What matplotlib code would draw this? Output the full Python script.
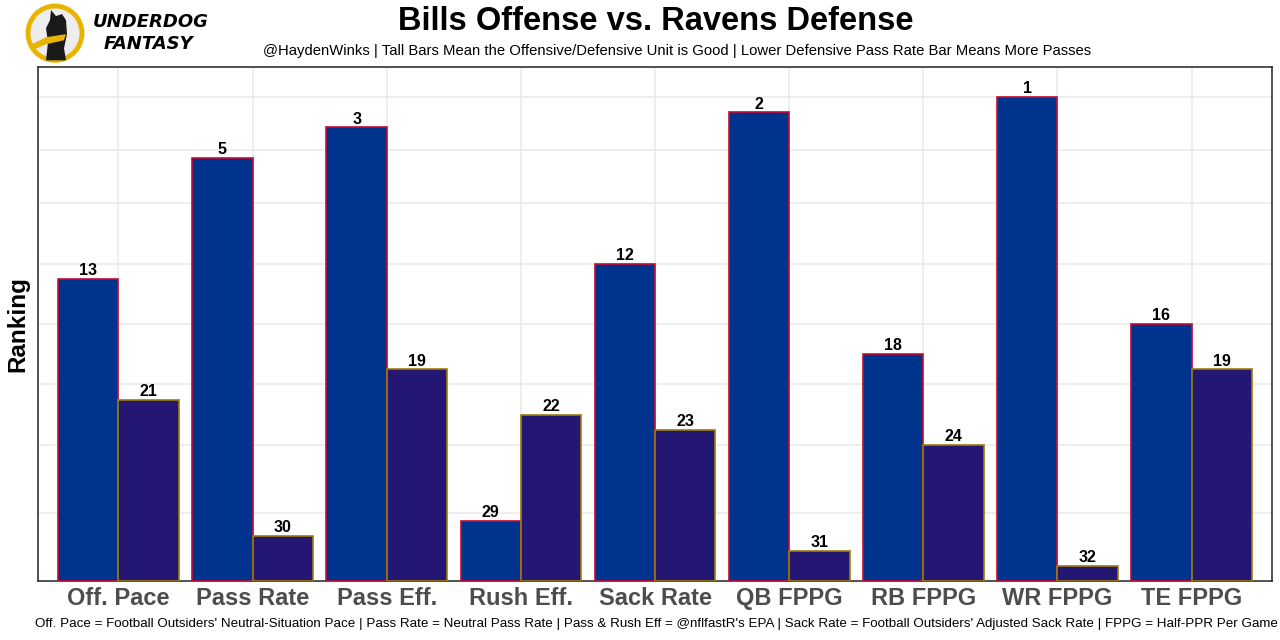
import matplotlib.pyplot as plt
from matplotlib.patches import Circle, Polygon
from matplotlib import font_manager
import numpy as np

# data
categories = ['Off. Pace', 'Pass Rate', 'Pass Eff.', 'Rush Eff.', 'Sack Rate',
              'QB FPPG', 'RB FPPG', 'WR FPPG', 'TE FPPG']
bills_rank = [13, 5, 3, 29, 12, 2, 18, 1, 16]
ravens_rank = [21, 30, 19, 22, 23, 31, 24, 32, 19]
grid_levels = [4.5, 9, 13, 17, 21, 25, 28.5, 32]

plt.rcParams['font.family'] = ['Liberation Sans', 'DejaVu Sans']
installed = {f.name for f in font_manager.fontManager.ttflist}

fig = plt.figure(figsize=(12.8, 6.4), dpi=100)
ax = fig.add_axes([0.0297, 0.0922, 0.9641, 0.8031])

x = np.arange(len(categories))
w = 0.45
bills_h = [33 - r for r in bills_rank]
ravens_h = [33 - r for r in ravens_rank]

ax.bar(x - w / 2, bills_h, width=w, color='#00338D', edgecolor='#C60C30', linewidth=1.2, zorder=3)
ax.bar(x + w / 2, ravens_h, width=w, color='#241773', edgecolor='#9E7C0C', linewidth=1.2, zorder=3)

for xi, h, r in zip(x - w / 2, bills_h, bills_rank):
    ax.text(xi, h + 0.05, str(r), ha='center', va='bottom', fontsize=11.5, fontweight='bold', zorder=4)
for xi, h, r in zip(x + w / 2, ravens_h, ravens_rank):
    ax.text(xi, h + 0.05, str(r), ha='center', va='bottom', fontsize=11.5, fontweight='bold', zorder=4)

ax.set_xlim(-0.6, len(categories) - 0.4)
ax.set_ylim(0, 34)
ax.set_xticks(x)
ax.set_xticklabels(categories, fontsize=17, fontweight='bold', color='#4D4D4D')
ax.set_yticks(grid_levels)
ax.set_yticklabels([])
ax.tick_params(length=0, pad=4)
ax.grid(True, color='#EBEBEB', linewidth=1.2, zorder=0)
for s in ax.spines.values():
    s.set_color('#333333')
    s.set_linewidth(1.2)
ax.set_ylabel('Ranking', fontsize=17.5, fontweight='bold', labelpad=2)

fig.text(0.512, 0.966, 'Bills Offense vs. Ravens Defense', ha='center', va='center',
         fontsize=23.5, fontweight='bold')
fig.text(0.529, 0.920, '@HaydenWinks | Tall Bars Mean the Offensive/Defensive Unit is Good | '
         'Lower Defensive Pass Rate Bar Means More Passes', ha='center', va='center', fontsize=10.7)

caption = ("Off. Pace = Football Outsiders' Neutral-Situation Pace | Pass Rate = Neutral Pass Rate | "
           "Pass & Rush Eff = @nflfastR's EPA | Sack Rate = Football Outsiders' Adjusted Sack Rate | "
           "FPPG = Half-PPR Per Game")
if 'Liberation Sans Narrow' in installed:
    fig.text(0.512, 0.026, caption, ha='center', va='center', fontsize=11,
             family=['Liberation Sans Narrow', 'DejaVu Sans'])
else:
    fig.text(0.5125, 0.025, caption, ha='center', va='center', fontsize=9.6)

# logo
logo = fig.add_axes([0, 0.89, 0.2, 0.11])
logo.set_xlim(0, 256)
logo.set_ylim(70, 0)
logo.axis('off')
logo.add_patch(Circle((55, 33), 27, facecolor='#EDEDED', edgecolor='#E8B400', linewidth=3.5))
dog = [(51, 10), (56, 16), (62, 14), (66, 20), (67, 34), (64, 48), (66, 60), (46, 60),
       (48, 42), (46, 28), (50, 20)]
logo.add_patch(Polygon(dog, closed=True, facecolor='#1A1A1A', edgecolor='none'))
logo.add_patch(Polygon([(30, 45), (46, 37), (66, 34), (64, 40), (46, 44), (32, 50)],
                       closed=True, facecolor='#E8B400', edgecolor='none'))
logo.text(93, 22, 'UNDERDOG', fontsize=13, fontweight='heavy', fontstyle='italic', va='center',
          family=['DejaVu Sans'])
logo.text(104, 44, 'FANTASY', fontsize=13, fontweight='heavy', fontstyle='italic', va='center',
          family=['DejaVu Sans'])

fig.savefig('out.png', dpi=100)
